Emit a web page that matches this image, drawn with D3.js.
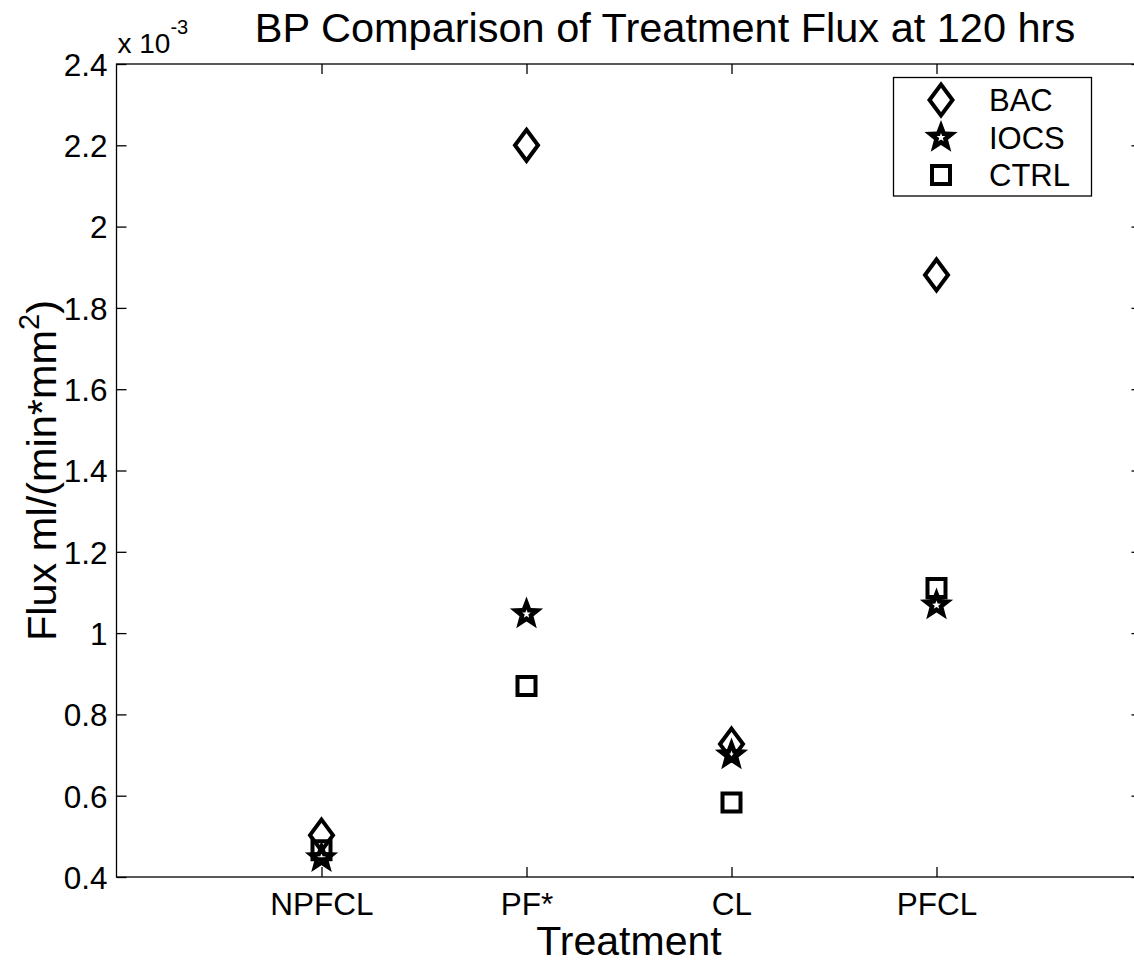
<!DOCTYPE html>
<html><head><meta charset="utf-8">
<script src="https://cdn.jsdelivr.net/npm/d3@7"></script>
<style>body{margin:0;background:#fff}svg{display:block}text{font-family:"Liberation Sans",Arial,Helvetica,sans-serif;fill:#000}</style>
</head><body>
<script>
const categories = ["NPFCL", "PF*", "CL", "PFCL"];
const categoryPos = [1, 2, 3, 4];
const BAC  = [0.000503, 0.002200, 0.000727, 0.001881];
const IOCS = [0.000447, 0.001047, 0.000700, 0.001069];
const CTRL = [0.000466, 0.000870, 0.000583, 0.001111];
const yTicks = [0.0004, 0.0006, 0.0008, 0.0010, 0.0012, 0.0014, 0.0016, 0.0018, 0.0020, 0.0022, 0.0024];
const seriesNames = ["BAC", "IOCS", "CTRL"];

const W = 1134, H = 965;
const L = 116.5, R = 1141.5, T = 64, B = 877;
const svg = d3.select("body").append("svg").attr("width", W).attr("height", H);

const x = d3.scaleLinear().domain([0, 5]).range([L, R]);
const y = d3.scaleLinear().domain([0.0004, 0.0024]).range([B, T]);

const fmt = v => String(+(v * 1000).toFixed(1));

const g = svg.append("g");
g.append("rect").attr("x", L).attr("y", T).attr("width", R - L).attr("height", B - T)
  .attr("fill", "none").attr("stroke", "#000").attr("stroke-width", 1.3);

const yAxis = d3.axisLeft(y).tickValues(yTicks).tickSize(-10).tickPadding(9).tickFormat(fmt);
const ya = g.append("g").attr("transform", `translate(${L},0)`).call(yAxis);
const yr = g.append("g").attr("transform", `translate(${R},0)`).call(d3.axisRight(y).tickValues(yTicks).tickSize(-10).tickFormat(""));
const xAxis = d3.axisBottom(x).tickValues(categoryPos).tickSize(-10).tickPadding(16).tickFormat((d, i) => categories[i]);
const xa = g.append("g").attr("transform", `translate(0,${B})`).call(xAxis);
const xt = g.append("g").attr("transform", `translate(0,${T})`).call(d3.axisTop(x).tickValues(categoryPos).tickSize(-10).tickFormat(""));
[ya, yr, xa, xt].forEach(a => {
  a.select(".domain").remove();
  a.selectAll(".tick line").attr("stroke", "#000").attr("stroke-width", 1.3);
  a.selectAll("text").attr("font-size", 31.5).attr("fill", "#000")
    .style("font-family", '"Liberation Sans",Arial,sans-serif');
});
ya.selectAll("text").attr("dy", "0.36em");
xa.selectAll("text").attr("dy", "0.71em");

const ex = svg.append("text").attr("x", L + 1).attr("y", 53).attr("font-size", 28);
ex.append("tspan").text("x 10");
ex.append("tspan").attr("dy", -19).attr("font-size", 20).text("-3");

svg.append("text").attr("x", 665).attr("y", 42).attr("text-anchor", "middle")
  .attr("font-size", 41.5).text("BP Comparison of Treatment Flux at 120 hrs");
svg.append("text").attr("x", (L + R) / 2).attr("y", 955).attr("text-anchor", "middle")
  .attr("font-size", 41).text("Treatment");
const yl = svg.append("text").attr("transform", `translate(56,${(T + B) / 2}) rotate(-90)`)
  .attr("text-anchor", "middle").attr("font-size", 41.5);
yl.append("tspan").text("Flux ml/(min*mm");
yl.append("tspan").attr("dy", -17).attr("font-size", 29).text("2");
yl.append("tspan").attr("dy", 17).text(")");

function starRing(Ro, Ri, reverse) {
  const pts = [];
  for (let i = 0; i < 10; i++) {
    const a = -Math.PI / 2 + i * Math.PI / 5;
    const rr = i % 2 === 0 ? Ro : Ri;
    pts.push([+(rr * Math.cos(a)).toFixed(2), +(rr * Math.sin(a)).toFixed(2)]);
  }
  if (reverse) pts.reverse();
  return "M" + pts.map(p => p.join(",")).join("L") + "Z";
}
const diamond = "M0,-15.5L11.5,0L0,15.5L-11.5,0Z";
const square = "M-9,-9L9,-9L9,9L-9,9Z";
// thick pentagram: solid outer star with a small hollow star at the centre
const star = starRing(17.5, 7.4, false) + starRing(4.6, 1.9, true);
const markerPaths = [diamond, star, square];
const markerFilled = [false, true, false];
const seriesData = [BAC, IOCS, CTRL];

function styleMarker(sel, i) {
  if (markerFilled[i]) {
    sel.attr("fill", "#000").attr("fill-rule", "evenodd").attr("stroke", "none");
  } else {
    sel.attr("fill", "none").attr("stroke", "#000").attr("stroke-width", 4)
      .attr("stroke-linejoin", "miter").attr("stroke-miterlimit", 10);
  }
}

const marks = svg.append("g");
seriesData.forEach((arr, si) => {
  const p = marks.append("g").selectAll("path").data(arr).join("path")
    .attr("d", markerPaths[si])
    .attr("transform", (d, i) => `translate(${x(categoryPos[i])},${y(d)})`);
  styleMarker(p, si);
});

const lg = svg.append("g");
lg.append("rect").attr("x", 893.5).attr("y", 77.5).attr("width", 198).attr("height", 118.5)
  .attr("fill", "#fff").attr("stroke", "#000").attr("stroke-width", 1.3);
const ly = [100, 137.5, 175];
seriesNames.forEach((name, i) => {
  const p = lg.append("path").attr("d", markerPaths[i]).attr("transform", `translate(941,${ly[i]})`);
  styleMarker(p, i);
  lg.append("text").attr("x", 989).attr("y", ly[i]).attr("dy", "0.36em")
    .attr("font-size", 31).text(name);
});
</script>
</body></html>
